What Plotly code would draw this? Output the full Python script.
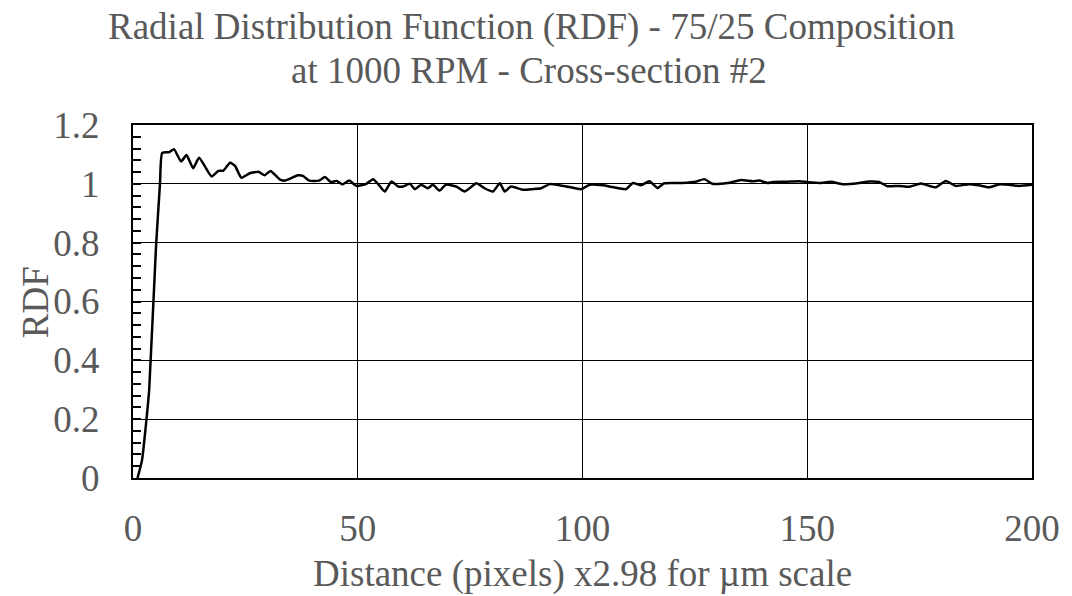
import plotly.graph_objects as go

# Radial distribution function sampled along distance (pixels)
distance = [1, 2, 3, 3.6, 5.1, 6, 6.5, 8.1, 9.1, 10.7, 11.9, 13.4, 14.7, 17.5, 19, 20.1,
            21.6, 22.7, 24.1, 26, 27.9, 29.3, 30.6, 32.7, 33.8, 36.7, 37.8, 39.2, 41.4,
            42.7, 44, 45.3, 46.6, 48.1, 49.7, 51.9, 53.4, 54.5, 56, 57.5, 59, 60.1, 61.6,
            62.7, 64.1, 65.6, 66.7, 68.2, 69.6, 71.9, 73.8, 76.4, 78.2, 80.1, 81.6, 82.7,
            84.1, 86.7, 88.9, 90.8, 92.7, 94.9, 97.1, 99.7, 101.6, 104.6, 106.7, 109.7,
            111.2, 113, 114.9, 116.7, 118.2, 122.2, 125.2, 127.1, 128.9, 132.3, 135.3,
            137.9, 139.3, 141.2, 142.3, 145.3, 148.2, 150.1, 152.7, 155.3, 157.8, 161.2,
            163.8, 166, 167.8, 170.4, 172.7, 175.3, 178.6, 180.8, 183, 186, 188.2, 190.4,
            192.7, 194.9, 197.1, 200]
rdf = [0.0, 0.06, 0.2, 0.3, 0.78, 1.0, 1.105, 1.108, 1.118, 1.076, 1.098, 1.053, 1.089,
       1.025, 1.044, 1.045, 1.072, 1.061, 1.021, 1.036, 1.041, 1.029, 1.044, 1.014, 1.011,
       1.029, 1.027, 1.011, 1.011, 1.023, 1.006, 1.01, 0.998, 1.011, 0.993, 1.0, 1.016,
       1.0, 0.974, 1.008, 0.991, 0.991, 1.0, 0.982, 0.997, 0.985, 0.997, 0.977, 0.997,
       0.991, 0.974, 1.002, 0.985, 0.974, 1.002, 0.974, 0.991, 0.98, 0.982, 0.985, 0.999,
       0.995, 0.989, 0.982, 0.997, 0.995, 0.989, 0.982, 1.003, 0.995, 1.009, 0.986, 1.002,
       1.003, 1.007, 1.016, 1.0, 1.003, 1.013, 1.009, 1.011, 1.003, 1.006, 1.007, 1.009,
       1.006, 1.003, 1.007, 0.999, 1.002, 1.008, 1.006, 0.992, 0.993, 0.99, 1.001, 0.988,
       1.01, 0.993, 0.999, 0.995, 0.988, 0.998, 0.997, 0.993, 0.997]

x_ticks = [0, 50, 100, 150, 200]
y_ticks = [0, 0.2, 0.4, 0.6, 0.8, 1.0, 1.2]
y_tick_text = ["0", "0.2", "0.4", "0.6", "0.8", "1", "1.2"]

FONT = "Liberation Serif, Times New Roman, serif"
GREY = "#595959"
SIZE = 37

# plot-area geometry in pixels, used to place the free-standing texts
L, R, T, B = 133, 38, 125, 118
W, H = 1072, 596
PW, PH = W - L - R, H - T - B


def px_x(px):
    return (px - L) / PW


def px_y(py):
    return (H - B - py) / PH


fig = go.Figure()
fig.add_trace(go.Scatter(
    x=distance, y=rdf, mode="lines",
    line=dict(color="black", width=2.5, shape="spline", smoothing=0.5),
    showlegend=False,
))

fig.update_layout(
    width=W, height=H,
    margin=dict(l=L, r=R, t=T, b=B),
    paper_bgcolor="white", plot_bgcolor="white",
    font=dict(family=FONT, color=GREY, size=SIZE),
)

txt = dict(family=FONT, color=GREY, size=SIZE)
fig.add_annotation(text="Radial Distribution Function (RDF) - 75/25 Composition",
                   xref="paper", yref="paper", x=px_x(532), y=px_y(27),
                   xanchor="center", yanchor="middle", showarrow=False, font=txt)
fig.add_annotation(text="at 1000 RPM - Cross-section #2",
                   xref="paper", yref="paper", x=px_x(530), y=px_y(71),
                   xanchor="center", yanchor="middle", showarrow=False, font=txt)
fig.add_annotation(text="Distance (pixels) x2.98 for µm scale",
                   xref="paper", yref="paper", x=px_x(583), y=px_y(574),
                   xanchor="center", yanchor="middle", showarrow=False, font=txt)
fig.add_annotation(text="RDF", textangle=-90,
                   xref="paper", yref="paper", x=px_x(35), y=px_y(302),
                   xanchor="center", yanchor="middle", showarrow=False, font=txt)

fig.update_xaxes(
    range=[0, 200], tickvals=x_ticks, ticks="", showgrid=True,
    gridcolor="black", gridwidth=1, showline=True, linecolor="black",
    linewidth=2, mirror=True, zeroline=False,
    tickfont=txt, ticklabelstandoff=17,
)
fig.update_yaxes(
    range=[0, 1.2], tickvals=y_ticks, ticktext=y_tick_text,
    ticks="inside", ticklen=8, tickcolor="black", tickwidth=1.5,
    minor=dict(ticks="inside", dtick=0.04, ticklen=8, tickcolor="black",
               tickwidth=1.5, showgrid=False),
    showgrid=True, gridcolor="black", gridwidth=1, showline=True,
    linecolor="black", linewidth=2, mirror=True, zeroline=False,
    tickfont=txt, ticklabelstandoff=24,
)

fig.write_html("out.html")
